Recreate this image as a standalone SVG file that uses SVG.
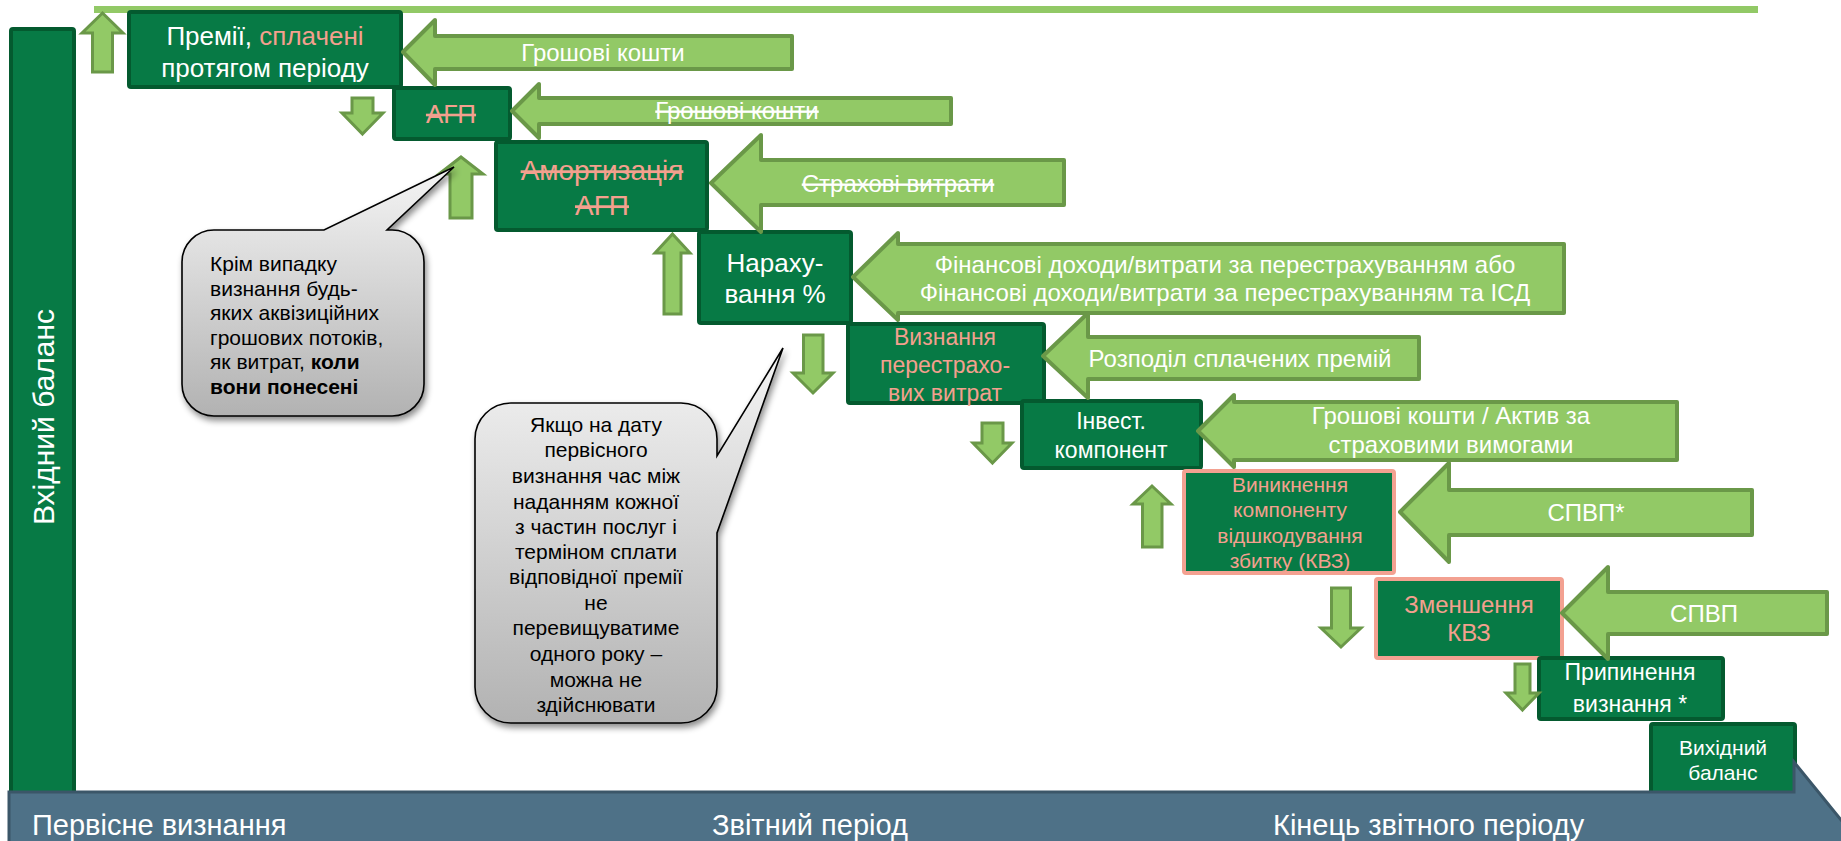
<svg xmlns="http://www.w3.org/2000/svg" width="1841" height="841" viewBox="0 0 1841 841">
<defs>
<linearGradient id="cg" x1="0" y1="0" x2="0" y2="1">
<stop offset="0" stop-color="#f5f5f5"/>
<stop offset="1" stop-color="#b2b2b2"/>
</linearGradient>
<filter id="sh" x="-20%" y="-20%" width="140%" height="140%">
<feDropShadow dx="2" dy="4" stdDeviation="3" flood-color="#000" flood-opacity="0.45"/>
</filter>
</defs>
<style>
text{font-family:"Liberation Sans",Arial,sans-serif}
.box{fill:#077a45;stroke:#045a2f;stroke-width:4}
.pbox{fill:#077a45;stroke:#f3a191;stroke-width:4}
.ba{fill:#92c966;stroke:#6a9848;stroke-width:4;stroke-linejoin:round}
.sa{fill:#92c966;stroke:#6a9848;stroke-width:3;stroke-linejoin:miter}
.w{fill:#ffffff}
.s{fill:#f3a08e}
.st{text-decoration:line-through}
.co{fill:url(#cg);stroke:#000;stroke-width:1.6;filter:url(#sh)}
.ct{fill:#000;font-size:21px}
.ax{fill:#ffffff;font-size:29px}
</style>

<rect x="94" y="6" width="1664" height="7" fill="#92c966"/>

<g id="left-bar">
<rect class="box" x="11" y="29" width="63" height="771" rx="2"/>
<text class="w" font-size="30" text-anchor="middle" transform="translate(54,417) rotate(-90)">Вхідний баланс</text>
</g>

<g id="node-premii">
<rect class="box" x="129" y="12" width="272" height="75" rx="2"/>
<text font-size="26" text-anchor="middle" x="265" y="45"><tspan class="w">Премії, </tspan><tspan class="s">сплачені</tspan></text>
<text class="w" font-size="26" text-anchor="middle" x="265" y="77">протягом періоду</text>
</g>

<g id="node-agp">
<rect class="box" x="394" y="88" width="116" height="51" rx="2"/>
<text class="s st" font-size="26" text-anchor="middle" x="451" y="123">АГП</text>
</g>

<g id="node-amort">
<rect class="box" x="496" y="142" width="211" height="88" rx="2"/>
<text class="s st" font-size="28" text-anchor="middle" x="602" y="180">Амортизація</text>
<text class="s st" font-size="28" text-anchor="middle" x="602" y="215">АГП</text>
</g>

<g id="node-narah">
<rect class="box" x="699" y="232" width="152" height="91" rx="2"/>
<text class="w" font-size="26" text-anchor="middle" x="775" y="272">Нараху-</text>
<text class="w" font-size="26" text-anchor="middle" x="775" y="303">вання %</text>
</g>

<g id="node-vyzn">
<rect class="box" x="848" y="324" width="196" height="79" rx="2"/>
<text class="s" font-size="23" text-anchor="middle" x="945" y="345">Визнання</text>
<text class="s" font-size="23" text-anchor="middle" x="945" y="373">перестрахо-</text>
<text class="s" font-size="23" text-anchor="middle" x="945" y="401">вих витрат</text>
</g>

<g id="node-invest">
<rect class="box" x="1022" y="401" width="179" height="67" rx="2"/>
<text class="w" font-size="23" text-anchor="middle" x="1111" y="429">Інвест.</text>
<text class="w" font-size="23" text-anchor="middle" x="1111" y="458">компонент</text>
</g>

<g id="node-kvz">
<rect class="pbox" x="1184" y="471" width="210" height="102" rx="2"/>
<text class="s" font-size="21" text-anchor="middle" x="1290" y="492">Виникнення</text>
<text class="s" font-size="21" text-anchor="middle" x="1290" y="517">компоненту</text>
<text class="s" font-size="21" text-anchor="middle" x="1290" y="543">відшкодування</text>
<text class="s" font-size="21" text-anchor="middle" x="1290" y="568">збитку (КВЗ)</text>
</g>

<g id="node-zmensh">
<rect class="pbox" x="1376" y="579" width="186" height="79" rx="2"/>
<text class="s" font-size="24" text-anchor="middle" x="1469" y="613">Зменшення</text>
<text class="s" font-size="24" text-anchor="middle" x="1469" y="641">КВЗ</text>
</g>

<g id="node-prypyn">
<rect class="box" x="1539" y="658" width="184" height="61" rx="2"/>
<text class="w" font-size="23" text-anchor="middle" x="1630" y="680">Припинення</text>
<text class="w" font-size="23" text-anchor="middle" x="1630" y="712">визнання *</text>
</g>

<g id="node-vyhid">
<rect class="box" x="1651" y="724" width="144" height="80" rx="2"/>
<text class="w" font-size="21" text-anchor="middle" x="1723" y="755">Вихідний</text>
<text class="w" font-size="21" text-anchor="middle" x="1723" y="780">баланс</text>
</g>

<g id="axis">
<polygon points="9,792 1794,792 1794,762 1880,868 1794,975 1794,945 9,945" fill="#4e7187" stroke="#3b5668" stroke-width="3"/>
<text class="ax" x="32" y="835">Первісне визнання</text>
<text class="ax" x="712" y="835">Звітний період</text>
<text class="ax" x="1273" y="835">Кінець звітного періоду</text>
</g>

<g id="connectors">
<path class="ba" d="M403,52 L435,20 L435,36 L792,36 L792,69 L435,69 L435,85 Z"/>
<text class="w" font-size="24" text-anchor="middle" x="603" y="61">Грошові кошти</text>
<path class="ba" d="M512,111 L539,84 L539,98 L951,98 L951,124 L539,124 L539,138 Z"/>
<text class="w st" font-size="24" text-anchor="middle" x="737" y="119">Грошові кошти</text>
<path class="ba" d="M711,183 L761,135 L761,160 L1064,160 L1064,205 L761,205 L761,232 Z"/>
<text class="w st" font-size="24" text-anchor="middle" x="898" y="192">Страхові витрати</text>
<path class="ba" d="M853,277 L898,233 L898,244 L1564,244 L1564,313 L898,313 L898,320 Z"/>
<text class="w" font-size="24" text-anchor="middle" x="1225" y="273">Фінансові доходи/витрати за перестрахуванням або</text>
<text class="w" font-size="24" text-anchor="middle" x="1225" y="301">Фінансові доходи/витрати за перестрахуванням та ІСД</text>
<path class="ba" d="M1043,356 L1088,313 L1088,337 L1419,337 L1419,379 L1088,379 L1088,398 Z"/>
<text class="w" font-size="24" text-anchor="middle" x="1240" y="367">Розподіл сплачених премій</text>
<path class="ba" d="M1198,431 L1234,395 L1234,402 L1677,402 L1677,460 L1234,460 L1234,467 Z"/>
<text class="w" font-size="24" text-anchor="middle" x="1451" y="424">Грошові кошти / Актив за</text>
<text class="w" font-size="24" text-anchor="middle" x="1451" y="453">страховими вимогами</text>
<path class="ba" d="M1400,512 L1449,463 L1449,490 L1752,490 L1752,535 L1449,535 L1449,562 Z"/>
<text class="w" font-size="24" text-anchor="middle" x="1586" y="521">СПВП*</text>
<path class="ba" d="M1562,613 L1608,567 L1608,592 L1827,592 L1827,634 L1608,634 L1608,659 Z"/>
<text class="w" font-size="24" text-anchor="middle" x="1704" y="622">СПВП</text>

<path class="sa" d="M102.5,13 L123,33 L112.5,33 L112.5,72 L92.5,72 L92.5,33 L82,33 Z"/>
<path class="sa" d="M362.5,134 L383,113 L373,113 L373,98 L352,98 L352,113 L342,113 Z"/>
<path class="sa" d="M461,157 L483,174 L472,174 L472,218 L450,218 L450,174 L439,174 Z"/>
<path class="sa" d="M672.5,234 L690,253 L681,253 L681,314 L664,314 L664,253 L655,253 Z"/>
<path class="sa" d="M813,393 L833,373 L823,373 L823,335 L803.5,335 L803.5,373 L793,373 Z"/>
<path class="sa" d="M992.5,463 L1012,443 L1003,443 L1003,423 L982,423 L982,443 L973,443 Z"/>
<path class="sa" d="M1152,486 L1171,504 L1162,504 L1162,547 L1142.5,547 L1142.5,504 L1133,504 Z"/>
<path class="sa" d="M1341,647 L1361,628 L1350.5,628 L1350.5,588 L1331.5,588 L1331.5,628 L1321,628 Z"/>
<path class="sa" d="M1522.5,710 L1539,693 L1530,693 L1530,664 L1515,664 L1515,693 L1506,693 Z"/>
</g>

<g id="callout-1">
<path class="co" d="M214,230 L324,230 L454,167 L387,230 L392,230 A32,32 0 0 1 424,262 L424,384 A32,32 0 0 1 392,416 L214,416 A32,32 0 0 1 182,384 L182,262 A32,32 0 0 1 214,230 Z"/>
<text class="ct" x="210" y="271">Крім випадку</text>
<text class="ct" x="210" y="296">визнання будь-</text>
<text class="ct" x="210" y="320">яких аквізиційних</text>
<text class="ct" x="210" y="345">грошових потоків,</text>
<text class="ct" x="210" y="369">як витрат, <tspan font-weight="bold">коли</tspan></text>
<text class="ct" x="210" y="394" font-weight="bold">вони понесені</text>
</g>

<g id="callout-2">
<path class="co" d="M511,403 L681,403 A36,36 0 0 1 717,439 L717,456 L783,348 L717,533 L717,687 A36,36 0 0 1 681,723 L511,723 A36,36 0 0 1 475,687 L475,439 A36,36 0 0 1 511,403 Z"/>
<g text-anchor="middle">
<text class="ct" x="596" y="432">Якщо на дату</text>
<text class="ct" x="596" y="457">первісного</text>
<text class="ct" x="596" y="483">визнання час між</text>
<text class="ct" x="596" y="509">наданням кожної</text>
<text class="ct" x="596" y="534">з частин послуг і</text>
<text class="ct" x="596" y="559">терміном сплати</text>
<text class="ct" x="596" y="584">відповідної премії</text>
<text class="ct" x="596" y="610">не</text>
<text class="ct" x="596" y="635">перевищуватиме</text>
<text class="ct" x="596" y="661">одного року –</text>
<text class="ct" x="596" y="687">можна не</text>
<text class="ct" x="596" y="712">здійснювати</text>
</g>
</g>
</svg>
